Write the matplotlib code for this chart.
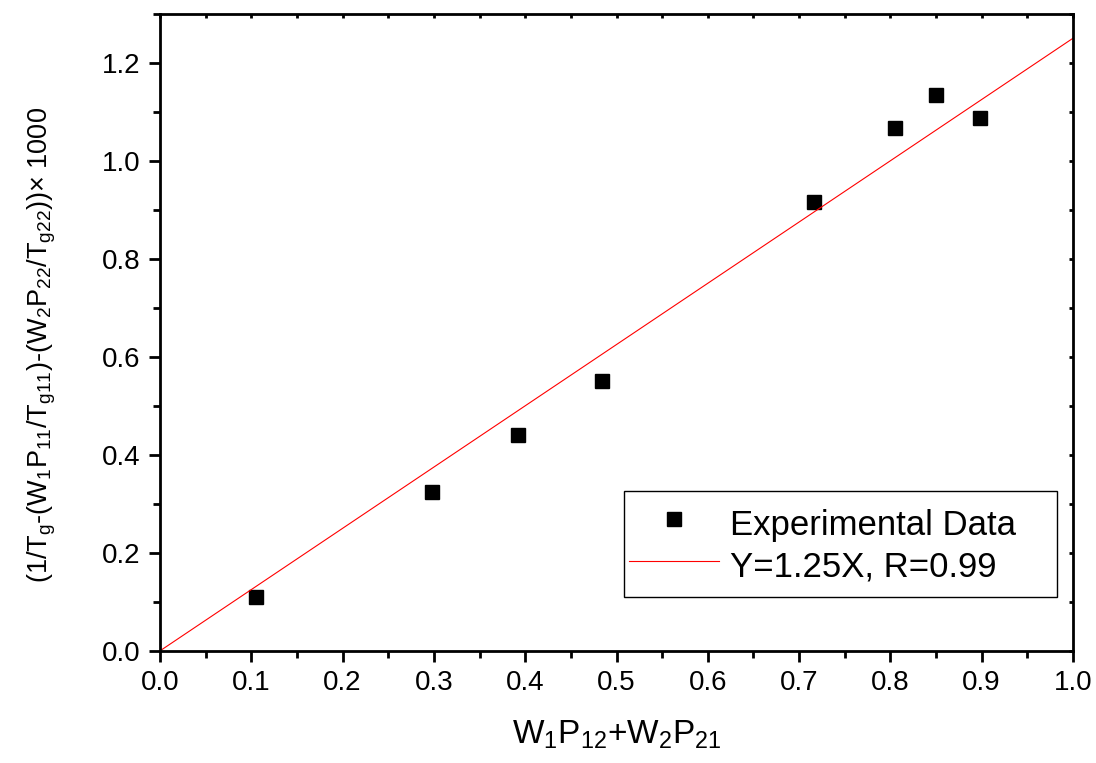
import numpy as np
import matplotlib
matplotlib.use("Agg")
import matplotlib.pyplot as plt
from matplotlib.ticker import MultipleLocator
from matplotlib.patches import Rectangle

plt.rcParams['font.family'] = ['Liberation Sans', 'DejaVu Sans']
plt.rcParams['mathtext.default'] = 'regular'

# measured points
x_data = [0.105, 0.298, 0.392, 0.484, 0.716, 0.805, 0.850, 0.898]
y_data = [0.110, 0.324, 0.441, 0.551, 0.916, 1.067, 1.135, 1.088]

# linear fit through origin
slope = 1.25
fit_x = np.array([0.0, 1.0])

fig = plt.figure(figsize=(10.96, 7.63), dpi=100)
ax = fig.add_axes([0.146, 0.147, 0.833, 0.835])

ax.plot(x_data, y_data, 's', color='black', ms=10, label='Experimental Data')
ax.plot(fit_x, slope * fit_x, '-', color='red', lw=0.8, label='Y=1.25X, R=0.99')

ax.set_xlim(0, 1.0)
ax.set_ylim(0, 1.3)
ax.xaxis.set_major_locator(MultipleLocator(0.1))
ax.xaxis.set_minor_locator(MultipleLocator(0.05))
ax.yaxis.set_major_locator(MultipleLocator(0.2))
ax.yaxis.set_minor_locator(MultipleLocator(0.1))
ax.set_yticks(np.arange(0, 1.21, 0.2))

for s in ax.spines.values():
    s.set_linewidth(2)

ax.tick_params(which='major', direction='out', length=8, width=2, labelsize=20,
               pad=6, top=False, right=False)
ax.tick_params(which='minor', direction='out', length=5, width=2,
               top=False, right=False)

# small inward ticks on top and right
ax_top = ax.secondary_xaxis('top')
ax_top.set_xticks(np.arange(0, 1.01, 0.05))
ax_top.tick_params(direction='in', length=3, width=2, labeltop=False)
ax_top.spines['top'].set_visible(False)
ax_right = ax.secondary_yaxis('right')
ax_right.set_yticks(np.arange(0, 1.31, 0.1))
ax_right.tick_params(direction='in', length=3, width=2, labelright=False)
ax_right.spines['right'].set_visible(False)

ax.set_xlabel(r'$W_1P_{12}$+$W_2P_{21}$', fontsize=24, labelpad=16)
ax.set_ylabel(r'(1/$T_g$-($W_1P_{11}$/$T_{g11}$)-($W_2P_{22}$/$T_{g22}$))× 1000',
              fontsize=19.5)
ax.yaxis.set_label_coords(-0.112, 0.48)

# legend box drawn separately so its size is fixed
leg_box = (0.508, 0.085, 0.4745, 0.166)
ax.add_patch(Rectangle(leg_box[:2], leg_box[2], leg_box[3], transform=ax.transAxes,
                       fill=True, facecolor='white', edgecolor='black', lw=1, zorder=4))
leg = ax.legend(loc='center left', bbox_to_anchor=leg_box, mode='expand',
                fontsize=25, frameon=False, handlelength=2.6, handleheight=1.35,
                borderaxespad=0, borderpad=0.15, labelspacing=0.08,
                handletextpad=0.32)
leg.set_zorder(5)

fig.savefig('out.png', dpi=100)
